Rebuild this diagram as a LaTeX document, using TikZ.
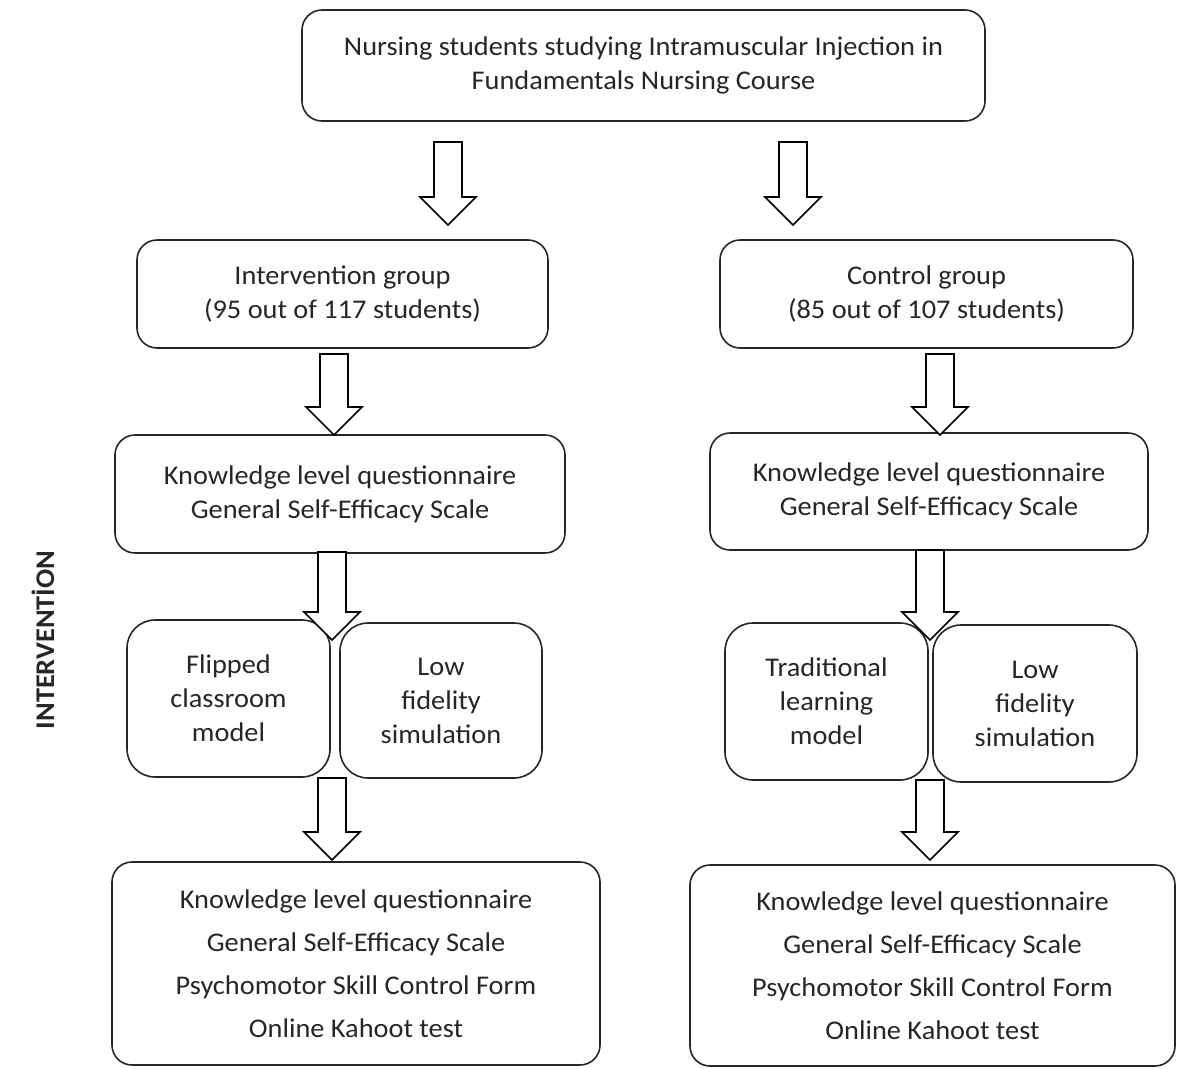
\documentclass[tikz,border=0pt]{standalone}
\usepackage{fontspec}
\setmainfont[FakeStretch=1.05]{Carlito}
\begin{document}
\begin{tikzpicture}[x=1pt,y=-1pt,
  box/.style={draw=black!85,line width=1.6pt,rounded corners=20pt,align=center,inner sep=0pt,
    font=\fontsize{27}{34}\selectfont,text=black!85},
  sbox/.style={box,rounded corners=28pt},
  tall/.style={font=\fontsize{27}{43}\selectfont},
  barrowst/.style={draw=black,line width=1.6pt,fill=white,line join=miter}]
\useasboundingbox (0,0) rectangle (1177,1068);
\newcommand\barrow[3]{%
  \draw[barrowst] (#1-14,#2) -- (#1+14,#2) -- (#1+14,#3-28) -- (#1+28,#3-28) -- (#1,#3)
    -- (#1-28,#3-28) -- (#1-14,#3-28) -- cycle;}
% boxes
\node[box,minimum width=683pt,minimum height=111pt] (top) at (643.5,65.5)
  {Nursing students studying Intramuscular Injection in\\Fundamentals Nursing Course};
\node[box,minimum width=411pt,minimum height=108pt] (ig) at (342.5,294)
  {Intervention group\\(95 out of 117 students)};
\node[box,minimum width=413pt,minimum height=108pt] (cg) at (926.5,294)
  {Control group\\(85 out of 107 students)};
\node[box,minimum width=450pt,minimum height=118pt] (kl) at (340,494)
  {Knowledge level questionnaire\\General Self-Efficacy Scale};
\node[box,minimum width=438pt,minimum height=117pt] (kr) at (929,491.5)
  {Knowledge level questionnaire\\General Self-Efficacy Scale};
\node[sbox,minimum width=203pt,minimum height=157pt] (fl) at (228.5,698.5)
  {Flipped\\classroom\\model};
\node[sbox,minimum width=202pt,minimum height=155pt] (ll) at (441,700.5)
  {Low\\fidelity\\simulation};
\node[sbox,minimum width=203pt,minimum height=157pt] (tr) at (826.5,701.5)
  {Traditional\\learning\\model};
\node[sbox,minimum width=204pt,minimum height=157pt] (lr) at (1035,703.5)
  {Low\\fidelity\\simulation};
\node[box,tall,minimum width=488pt,minimum height=203pt] (bl) at (356,963.5)
  {Knowledge level questionnaire\\General Self-Efficacy Scale\\Psychomotor Skill Control Form\\Online Kahoot test};
\node[box,tall,minimum width=485pt,minimum height=201pt] (br) at (932.5,965.5)
  {Knowledge level questionnaire\\General Self-Efficacy Scale\\Psychomotor Skill Control Form\\Online Kahoot test};
\node[rotate=90,font=\fontsize{27}{30}\selectfont\bfseries,text=black!85] (lab) at (43,640) {INTERVENTİON};
% block arrows
\barrow{448}{142}{225}
\barrow{793}{142}{225}
\barrow{334}{354}{435}
\barrow{940}{354}{435}
\barrow{332}{552}{640}
\barrow{930}{550}{640}
\barrow{332}{778}{860}
\barrow{930}{780}{860}
\end{tikzpicture}
\end{document}
